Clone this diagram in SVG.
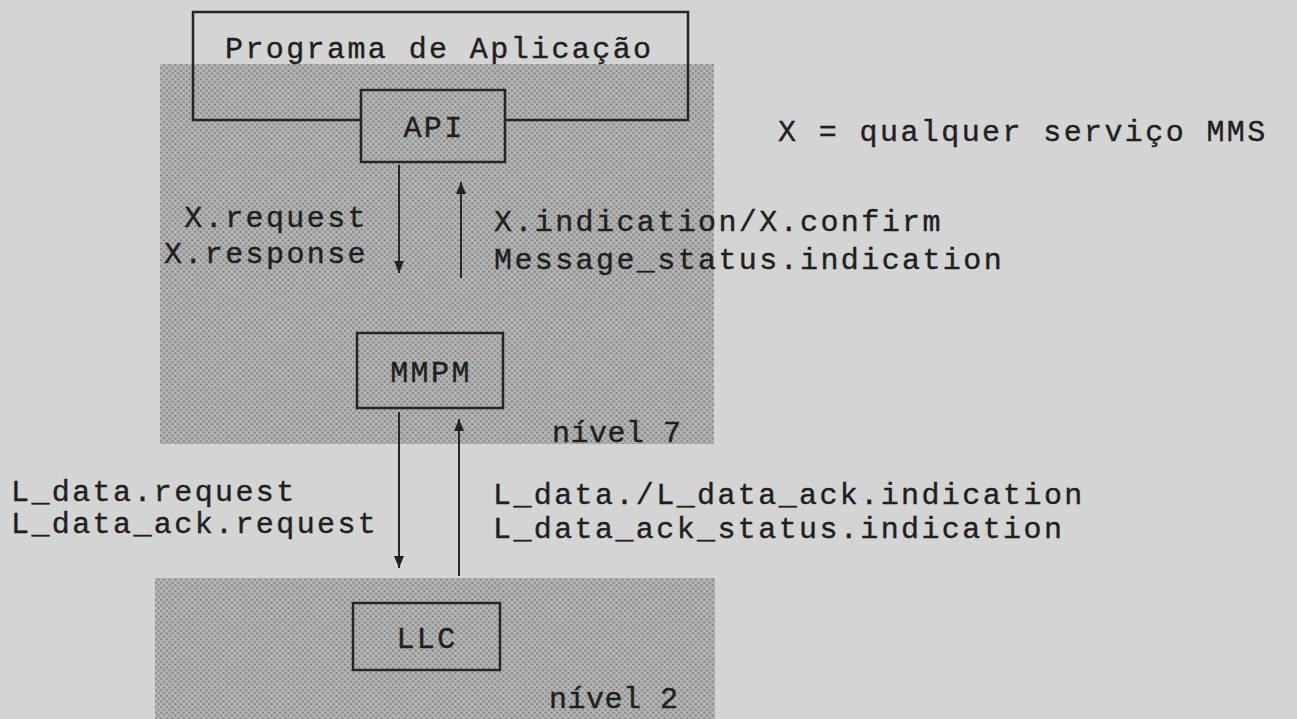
<svg xmlns="http://www.w3.org/2000/svg" width="1297" height="719" viewBox="0 0 1297 719">
  <defs>
    <!-- halftone screen used for the two layer bands -->
    <pattern id="screen" width="4" height="4" patternUnits="userSpaceOnUse" patternTransform="rotate(45)">
      <rect width="4" height="4" fill="#b6b6b6"/>
      <circle cx="2" cy="2" r="1.3" fill="#888888"/>
    </pattern>
    <!-- solid triangular arrowhead, drawn along +x so orient="auto" follows the line -->
    <marker id="head" viewBox="0 0 12 10" refX="12" refY="5" markerWidth="12" markerHeight="10" markerUnits="userSpaceOnUse" orient="auto">
      <path d="M0,0 L12,5 L0,10 Z" fill="#222"/>
    </marker>
    <style>
      .band { fill: url(#screen); }
      .box { fill: none; stroke: #252525; stroke-width: 2.5; }
      .t { font-family: "Liberation Mono", "DejaVu Sans Mono", monospace; font-size: 30px; letter-spacing: 2.4px; fill: #1f1f1f; stroke: #1f1f1f; stroke-width: 0.4; }
      .lvl { letter-spacing: 0.5px; }
      .mid { text-anchor: middle; }
      .end { text-anchor: end; }
      .link { stroke: #262626; stroke-width: 2; fill: none; }
    </style>
  </defs>

  <!-- paper -->
  <rect width="1297" height="719" fill="#d4d4d4"/>

  <!-- layer bands -->
  <g id="layer7">
    <rect class="band" x="160" y="64" width="554" height="380"/>
    <text class="t lvl" x="552" y="442">nível 7</text>
  </g>
  <g id="layer2">
    <rect class="band" x="155" y="578" width="560" height="141"/>
    <text class="t lvl" x="549" y="708">nível 2</text>
  </g>

  <!-- application program frame -->
  <g id="app">
    <path class="box" d="M361,120 H193 V12 H688 V120 H505"/>
    <text class="t" x="225" y="58">Programa de Aplicação</text>
  </g>

  <g id="api">
    <rect class="box" x="361" y="90" width="144" height="72"/>
    <text class="t mid" x="434" y="137">API</text>
  </g>

  <g id="mmpm">
    <rect class="box" x="357" y="333" width="146" height="75"/>
    <text class="t mid" x="431" y="382">MMPM</text>
  </g>

  <g id="llc">
    <rect class="box" x="353" y="603" width="147" height="67"/>
    <text class="t mid" x="427" y="648">LLC</text>
  </g>

  <g id="legend">
    <text class="t" x="778" y="141">X = qualquer serviço MMS</text>
  </g>

  <!-- primitives exchanged between the layers -->
  <g id="connectors">
    <line class="link" x1="399" y1="165" x2="399" y2="273" marker-end="url(#head)"/>
    <line class="link" x1="461" y1="278" x2="461" y2="182" marker-end="url(#head)"/>
    <line class="link" x1="399" y1="412" x2="399" y2="568" marker-end="url(#head)"/>
    <line class="link" x1="459" y1="576" x2="459" y2="419" marker-end="url(#head)"/>

    <text class="t end" x="368" y="227">X.request</text>
    <text class="t end" x="368" y="263">X.response</text>
    <text class="t" x="494" y="231">X.indication/X.confirm</text>
    <text class="t" x="494" y="269">Message_status.indication</text>

    <text class="t" x="11" y="501">L_data.request</text>
    <text class="t" x="11" y="533">L_data_ack.request</text>
    <text class="t" x="493" y="504">L_data./L_data_ack.indication</text>
    <text class="t" x="493" y="538">L_data_ack_status.indication</text>
  </g>
</svg>
